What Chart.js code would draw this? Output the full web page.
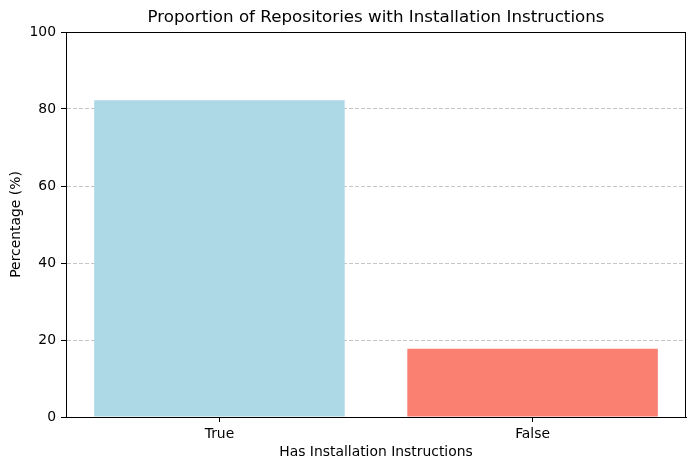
<!DOCTYPE html>
<html>
<head>
<meta charset="utf-8">
<script src="https://cdn.jsdelivr.net/npm/chart.js@4"></script>
<style>
html,body{margin:0;padding:0;background:#fff;}
#wrap{width:695px;height:470px;position:relative;}
</style>
</head>
<body>
<div id="wrap"><canvas id="c" width="695" height="470"></canvas></div>
<script>
const categories = ["True", "False"];
const percentages = [82.3, 17.7];
const barColors = ["#add8e6", "#fa8072"];
const yTicks = [0, 20, 40, 60, 80, 100];
const chartTitle = 'Proportion of Repositories with Installation Instructions';

const FONT = "'DejaVu Sans', sans-serif";

const points = categories.map((c, i) => ({ x: i, y: percentages[i] }));

const framePlugin = {
  id: 'frame',
  afterDraw(chart) {
    const {ctx, chartArea: a} = chart;
    ctx.save();
    ctx.strokeStyle = '#000';
    ctx.lineWidth = 1;
    ctx.strokeRect(Math.round(a.left) + 0.5, Math.round(a.top) + 0.5,
                   Math.round(a.right - a.left) - 1, Math.round(a.bottom - a.top));
    ctx.fillStyle = '#000';
    ctx.font = "16.7px " + FONT;
    ctx.textAlign = 'center';
    ctx.textBaseline = 'middle';
    ctx.fillText(chartTitle, (a.left + a.right) / 2, 18);
    ctx.restore();
  }
};

new Chart(document.getElementById('c'), {
  type: 'bar',
  data: {
    datasets: [{
      data: points,
      backgroundColor: barColors,
      borderWidth: 0,
      categoryPercentage: 1,
      barPercentage: 0.8
    }]
  },
  options: {
    responsive: false,
    animation: false,
    devicePixelRatio: 1,
    layout: { padding: { left: 0, right: 9, top: 32, bottom: 0 } },
    plugins: {
      legend: { display: false },
      tooltip: { enabled: false },
      title: { display: false }
    },
    scales: {
      x: {
        type: 'linear',
        min: -0.49,
        max: 1.49,
        offset: false,
        afterBuildTicks(s) { s.ticks = categories.map((c, i) => ({ value: i })); },
        grid: {
          display: true,
          offset: false,
          drawOnChartArea: false,
          tickLength: 5,
          tickColor: '#000',
          tickWidth: 1
        },
        border: { display: true, color: '#000', width: 1 },
        ticks: {
          color: '#000', padding: 4, font: { family: FONT, size: 13.9 },
          autoSkip: false, maxRotation: 0,
          callback: (v) => categories[Math.round(v)]
        },
        title: {
          display: true,
          text: 'Has Installation Instructions',
          color: '#000',
          font: { family: FONT, size: 13.9 },
          padding: { top: 0, bottom: 9 }
        },
        afterFit(s) { s.height = 53; }
      },
      y: {
        min: 0,
        max: 100,
        z: 1,
        afterBuildTicks(s) { s.ticks = yTicks.map(v => ({ value: v })); },
        grid: {
          color: (ctx) => (ctx.tick && (ctx.tick.value === 0 || ctx.tick.value === 100)) ? 'rgba(0,0,0,0)' : 'rgba(160,160,160,0.6)',
          lineWidth: 1,
          tickLength: 5,
          tickColor: '#000',
          tickWidth: 1,
          tickBorderDash: []
        },
        border: { display: true, color: '#000', width: 1, dash: [4, 2] },
        ticks: { color: '#000', padding: 5, font: { family: FONT, size: 13.9 } },
        title: {
          display: true,
          text: 'Percentage (%)',
          color: '#000',
          font: { family: FONT, size: 13.9 },
          padding: { top: 8, bottom: 0 }
        },
        afterFit(s) { s.width = 66; }
      }
    }
  },
  plugins: [framePlugin]
});
</script>
</body>
</html>
